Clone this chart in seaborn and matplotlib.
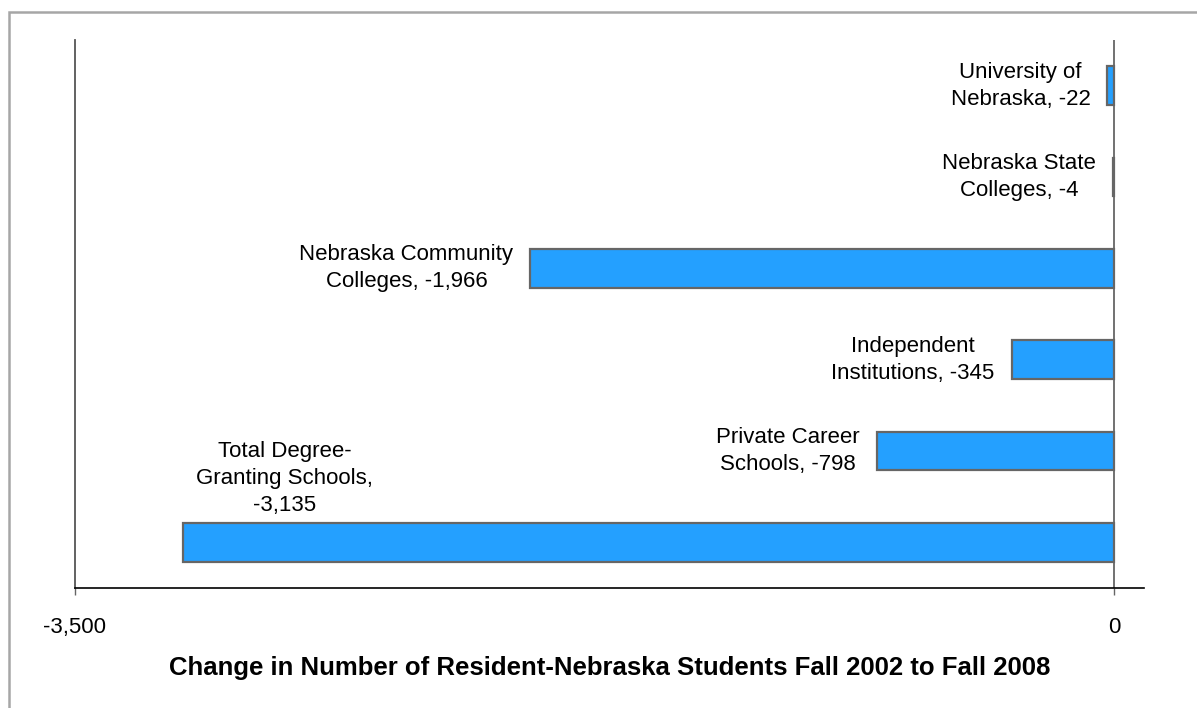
import numpy as np
import pandas as pd
import seaborn as sns
import matplotlib.pyplot as plt
from matplotlib.patches import Rectangle

# change in resident-Nebraska students, fall 2002 -> fall 2008
sectors = ['University of\nNebraska', 'Nebraska State\nColleges', 'Nebraska Community\nColleges',
           'Independent\nInstitutions', 'Private Career\nSchools', 'Total Degree-\nGranting Schools,\n']
changes = [-22, -4, -1966, -345, -798, -3135]
value_text = ['-22', '-4', '-1,966', '-345', '-798', '-3,135']
tick_vals = [-3500, 0]
tick_text = ['-3,500', '0']

df = pd.DataFrame({'sector': sectors, 'change': changes})

sns.set_style('white')
plt.rcParams['font.family'] = ['Liberation Sans', 'DejaVu Sans']
plt.rcParams['text.color'] = 'black'
plt.rcParams['xtick.color'] = 'black'
plt.rcParams['axes.labelcolor'] = 'black'

fig = plt.figure(figsize=(11.97, 7.08), dpi=100)
ax = fig.add_axes([75 / 1197, 1 - 588 / 708, (1144 - 75) / 1197, (588 - 40) / 708])

sns.barplot(data=df, x='change', y='sector', orient='h', color='#24A0FF',
            edgecolor='#666666', linewidth=1.6, width=0.42, saturation=1, ax=ax)

ax.axvline(0, color='#666666', lw=1.3, zorder=0)
ax.set_xlim(-3500, 101)
ax.set_ylim(5.5, -0.5)

# labels next to the bar ends
for i, (name, v, t) in enumerate(zip(sectors, changes, value_text)):
    if i == len(sectors) - 1:
        ax.annotate(name + t, xy=(v, i), xytext=(101, 64), textcoords='offset pixels',
                    ha='center', va='center', multialignment='center',
                    fontsize=16, linespacing=1.38)
    else:
        ax.annotate(name + ', ' + t, xy=(v, i), xytext=(-17, 0), textcoords='offset pixels',
                    ha='right', va='center', multialignment='center',
                    fontsize=16, linespacing=1.38)

ax.set_yticks([])
ax.set_ylabel('')
ax.set_xticks(tick_vals)
ax.set_xticklabels(tick_text, fontsize=16)
ax.tick_params(axis='x', bottom=True, length=5, width=1, color='#666666', pad=16)
ax.set_xlabel('Change in Number of Resident-Nebraska Students Fall 2002 to Fall 2008',
              fontsize=18.5, fontweight='bold', labelpad=12.5)

for s in ['top', 'right']:
    ax.spines[s].set_visible(False)
ax.spines['left'].set_color('#555555')
ax.spines['left'].set_linewidth(1.3)
ax.spines['bottom'].set_color('black')
ax.spines['bottom'].set_linewidth(1.2)

# outer chart frame
fig.patches.append(Rectangle((9 / 1197, -0.05), 1.1, 1 - 12 / 708 + 0.05,
                             transform=fig.transFigure, fill=False,
                             edgecolor='#A6A6A6', lw=1.8))

fig.savefig('out.png', dpi=100)
